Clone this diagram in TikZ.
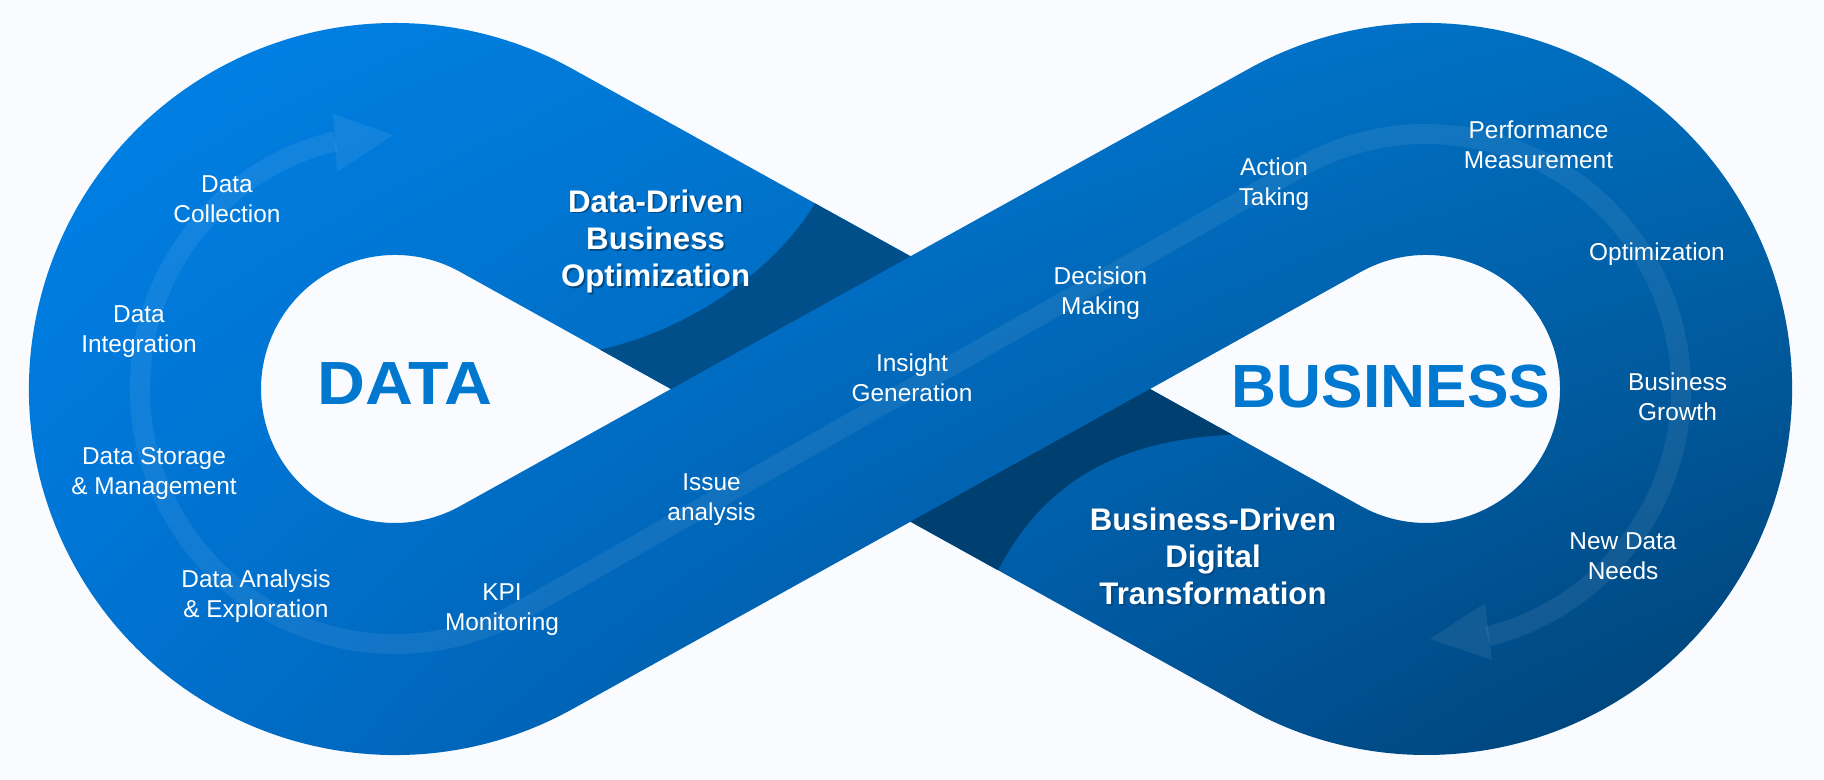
\documentclass[tikz,border=0pt]{standalone}
\usepackage{fontspec}
\setmainfont{Liberation Sans}
\definecolor{pagebg}{HTML}{F9FBFE}
\definecolor{darktop}{HTML}{004F8B}
\definecolor{darkbot}{HTML}{004070}
\definecolor{headblue}{HTML}{0078D0}
\definecolor{shadowblue}{HTML}{004A85}
\pgfdeclarefunctionalshading{infinityshade}{\pgfpointorigin}{\pgfpoint{100bp}{100bp}}{}{
 25 sub 50 div exch 25 sub 50 div exch
 2 copy 2 copy mul 0.126 mul exch 0.066 mul add exch -0.209 mul add 0.447 add
 3 1 roll
 2 copy mul 0.221 mul exch 0.095 mul add exch -0.396 mul add 0.822 add
 0 3 1 roll
}
\newcommand{\shl}[1]{\leavevmode\rlap{\kern0.9pt\raisebox{-0.9pt}{\textcolor{shadowblue}{#1}}}#1}
\tikzset{
  lbl/.style={text=white,align=center,font=\fontsize{12.2}{15}\selectfont,inner sep=0pt},
  boldlbl/.style={text=white,align=center,font=\fontsize{15.6}{18.7}\selectfont\bfseries,inner sep=0pt},
  bigword/.style={text=headblue,font=\fontsize{30.5}{32}\selectfont\bfseries,inner sep=0pt},
  ribbon/.style={draw=white,draw opacity=0.07,line width=10pt,fill=none},
  ribbonhead/.style={fill=white,fill opacity=0.07,draw=none},
}
\begin{document}
\begin{tikzpicture}[x=0.5pt,y=0.5pt]
\useasboundingbox (0,0) rectangle (1824,780);
\fill[pagebg] (0,0) rectangle (1824,780);
% infinity body
\begin{scope}[even odd rule]
\clip
  (572.4,711.1) -- (910.5,523.7) -- (1248.6,711.1)
  arc[start angle=119,end angle=-119,radius=366]
  -- (910.5,258.3) -- (572.4,70.9)
  arc[start angle=299,end angle=61,radius=366] -- cycle
  (671,391) -- (460,508.2) arc[start angle=61,end angle=299,radius=134] -- cycle
  (1150,391) -- (1361,508.2) arc[start angle=119,end angle=-119,radius=134] -- cycle;
\shade[shading=infinityshade] (0,0) rectangle (1824,780);
\end{scope}
% crossing shadows
\fill[darktop] (815,576.6) -- (910.5,523.7) -- (671,391) -- (600,430.4)
  .. controls (690,450) and (775,510) .. cycle;
\fill[darkbot] (1232,345.4) -- (1150,391) -- (910.5,258.3) -- (998,209.8)
  .. controls (1045,300) and (1120,340) .. cycle;
% flow ribbon
\draw[ribbon] (335,638.8) arc[start angle=103.6,end angle=299,radius=255]
  -- (1302.4,614) arc[start angle=119,end angle=-76,radius=255];
\fill[ribbonhead] (393,645) -- (333,666) -- (337,608) -- cycle;
\fill[ribbonhead] (1430,141) -- (1485,177) -- (1492,120) -- cycle;
% big words
\node[bigword] (data) at (405,396) {\scalebox{1.087}[1]{DATA}};
\node[bigword] (business) at (1391,393) {\scalebox{1.02}[1]{BUSINESS}};
% labels
\node[lbl] (l1) at (227,580.5) {Data\\Collection};
\node[lbl] (l2) at (139,448.5) {Data\\Integration};
\node[lbl] (l3) at (154,306.5) {Data Storage\\\& Management};
\node[lbl] (l4) at (256,184) {Data Analysis\\\& Exploration};
\node[lbl] (l5) at (502,170.5) {KPI\\Monitoring};
\node[lbl] (l6) at (711.5,280) {Issue\\analysis};
\node[lbl] (l7) at (912,402) {Insight\\Generation};
\node[lbl] (l8) at (1100.5,487) {Decision\\Making};
\node[lbl] (l9) at (1274,596) {Action\\Taking};
\node[lbl] (l10) at (1538.5,635.5) {Performance\\Measurement};
\node[lbl] (l11) at (1657,525.8) {Optimization};
\node[lbl] (l12) at (1677.5,383.5) {Business\\Growth};
\node[lbl] (l13) at (1623,224) {New Data\\Needs};
\node[boldlbl] (b1) at (655.6,537.7) {\shl{Data-Driven}\\\shl{Business}\\\shl{Optimization}};
\node[boldlbl] (b2) at (1213,222.8) {\shl{Business-Driven}\\\shl{Digital}\\\shl{Transformation}};
\end{tikzpicture}
\end{document}
